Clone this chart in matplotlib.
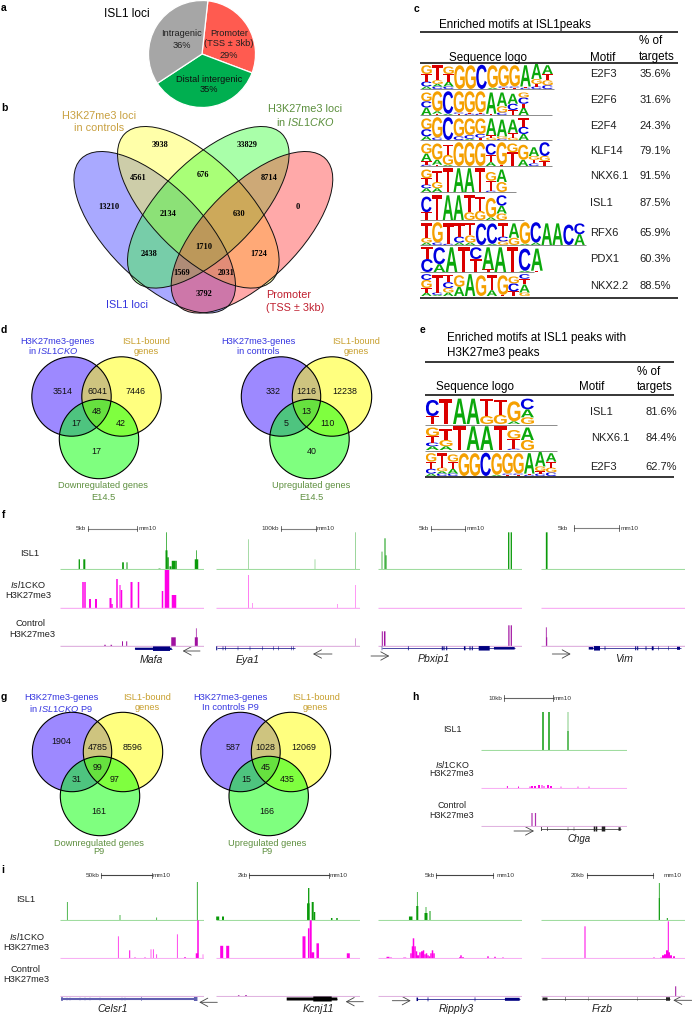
import re
import matplotlib
matplotlib.use("Agg")
import matplotlib.pyplot as plt
from matplotlib.font_manager import FontProperties
from matplotlib.patches import Circle, Ellipse, PathPatch
from matplotlib.path import Path
from matplotlib.textpath import TextPath

plt.rcParams['font.family'] = ['Liberation Sans', 'DejaVu Sans']
plt.rcParams['mathtext.fontset'] = 'custom'
plt.rcParams['mathtext.rm'] = 'Liberation Sans'
plt.rcParams['mathtext.it'] = 'Liberation Sans:italic'

W, H = 692, 1016

# panel a
pie_labels = ['Promoter', 'Distal intergenic', 'Intragenic']
pie_values = [29, 35, 36]

# panel b, numbers of the four set venn
venn4_counts = [3938, 33829, 4561, 676, 8714, 13210, 2134, 630, 0, 1710, 2438, 1724, 1569, 2031, 3792]

# panels d and g, order: A, AB, B, ABC, AC, BC, C
venn_d1 = [3514, 6041, 7446, 48, 17, 42, 17]
venn_d2 = [332, 1216, 12238, 13, 5, 110, 40]
venn_g1 = [1904, 4785, 8596, 99, 31, 97, 161]
venn_g2 = [587, 1028, 12069, 45, 15, 435, 166]

# motif tables, stacks are written top to bottom as letter + height in %
motifs_c = ['E2F3', 'E2F6', 'E2F4', 'KLF14', 'NKX6.1', 'ISL1', 'RFX6', 'PDX1', 'NKX2.2']
targets_c = ['35.6%', '31.6%', '24.3%', '79.1%', '91.5%', '87.5%', '65.9%', '60.3%', '88.5%']
motifs_e = ['ISL1', 'NKX6.1', 'E2F3']
targets_e = ['81.6%', '84.4%', '62.7%']

logo_e2f3 = ['G35T30C20A10', 'T60G15A10C10', 'G30T30A20C10', 'G95', 'G95', 'C97', 'G90A5', 'G85C5T5',
             'G85C5T5', 'A85T5C5', 'A60G20T10C10', 'A35T25G20C15']
logo_e2f6 = ['G35C25A30', 'G80A10T5', 'C90A5', 'G85C5T5', 'G85T5C5', 'G85T5C5', 'A85T5', 'A55G25C10',
             'A40C25T20', 'G20C25T15A30']
logo_e2f4 = ['G45C30A15', 'G85C10', 'C95', 'G75C15', 'G70C15A5', 'G65C15T10', 'A70T10G10', 'A70G10C5',
             'A55T20G10', 'T35C30A25']
logo_klf14 = ['G40A30T15C5', 'G65A20T5', 'T40G40A5', 'G95', 'G95', 'G95', 'C45T30A15', 'G90T5',
              'G35T55', 'G60A25', 'A35G15T15C10', 'C55G20T20']
logo_nkx61 = ['G35T25C15A15', 'T45G25A15', 'T95', 'A95', 'A95', 'T95', 'G35T40C5', 'A50G40']
logo_isl1 = ['C60T30', 'T95', 'A95', 'A95', 'T65G30', 'T55G35', 'G75A10', 'C40A30G25']
logo_rfx6 = ['T60G20A10', 'G85C10', 'T85C5', 'T55C25A10', 'T50G30A10', 'C90', 'C85A5', 'T55C20G15',
             'A60G30', 'G90A5', 'C85A10', 'A90', 'A90', 'C85', 'C45A45']
logo_pdx1 = ['T45C50', 'C65A30', 'A95', 'T95', 'C45T50', 'A85T10', 'A95', 'T95', 'C85A5', 'A85T5']
logo_nkx22 = ['C25G35T20A15', 'T75C10A5', 'T30C25G20A15', 'G50A40', 'A95', 'G90', 'T65A25', 'G85T5',
              'G30C35T20', 'C20T25A35G15']
logos_c = [logo_e2f3, logo_e2f6, logo_e2f4, logo_klf14, logo_nkx61, logo_isl1, logo_rfx6, logo_pdx1, logo_nkx22]
logos_e = [logo_isl1, logo_nkx61, logo_e2f3]

# browser tracks: (position, width, height), a track spans 144 units
mafa_isl1 = [(19.3, 1.3, 10), (24.3, 2, 10), (63, 1.7, 7), (67, 1, 7), (99.5, 2, .7), (106.5, 2, 19),
             (106.5, .7, 37), (108, 1.5, 12), (110.5, 2, 3), (113.5, 3.5, 8.5), (116, 1.5, 8.5),
             (136.5, 3.5, 10), (136.5, .7, 19)]
mafa_cko = [(23, 1.5, 26), (25, 1.5, 26), (30, 2, 9), (36, 2, 9), (50.5, 2, 10), (52, 1.5, 4), (57, 1.5, 29),
            (60, 1, 23), (61.5, 1.5, 18), (71.5, 2, 26), (78.5, 1.5, 26), (102.5, 1.5, 17), (107, 4.5, 38),
            (113.5, 3.5, 13), (115.5, 1.5, 13)]
mafa_ctl = [(45, 1.5, 1.5), (51.3, 1.5, 1.5), (62.5, 1, 5), (66.7, 1, 5), (113.5, 4.5, 9), (136.3, 3, 9),
            (136.3, .7, 18)]
eya1_isl1 = [(32.3, .35, 30), (99, .35, 10), (139.3, .4, 37)]
eya1_cko = [(32.3, .5, 33), (36.7, .4, 5), (121.3, .4, 4), (139.3, .4, 23)]
eya1_ctl = [(139.3, .4, 8)]
pbxip1_isl1 = [(4, .7, 17.7), (7, 1, 31), (8, 1, 14), (130.7, 1.3, 37), (133.3, 1.3, 37)]
pbxip1_cko = []
pbxip1_ctl = [(4.3, 1, 15), (6.7, 1.5, 15), (130.9, 1.2, 21), (133.3, 1.2, 21)]
vim_isl1 = [(5.7, 1.7, 37)]
vim_cko = []
vim_ctl = [(5.3, .8, 19), (5.7, 1, 9)]

celsr1_isl1 = [(7.3, .7, 18), (60, .7, 5), (96.7, .7, 2.5), (137.3, .8, 38)]
celsr1_cko = [(58.3, .7, 22), (69.7, 1, 8), (75, 1, 1), (85, 1, 1), (91, .6, 9), (93.3, .7, 9), (96.7, .7, 4),
              (117.3, .7, 24), (125, 2, 1), (137, 2.5, 5), (138, 1.5, 38), (143, .5, 4)]
celsr1_ctl = []
kcnj11_isl1 = [(1.7, 3, 3.5), (7, 2, 3.5), (92.3, 2.5, 16.7), (92.7, 1.3, 32), (96.7, 2, 18), (98.5, 1.5, 8),
               (115.7, 1.5, 2), (121, 1.5, 2)]
kcnj11_cko = [(5.7, 3, 12.5), (11.7, 3, 12.5), (88, 3, 22), (92.7, 1.5, 30), (94.7, 2, 38), (96.7, 3, 6),
              (101.7, 2.5, 15), (132.3, 3, 5)]
kcnj11_ctl = [(22.7, 1.5, 1), (30, 2, 1)]
ripply3_isl1 = [(32.7, 3.5, 3.5), (39.3, 2, 14), (39.3, .7, 28), (48, 3, 7), (48, .7, 13), (52, 1, 9)]
ripply3_cko = [(10, 3, 1.5), (13, 2, .7), (26.7, 3, .7), (33, 1.5, 5), (34.5, 1.5, 12), (35.5, 1.5, 20),
               (37, 1.5, 12), (38.5, 1.5, 7), (40, 2, 3), (42, 1.5, 6), (44, 2, 7), (45.5, 1.5, 8), (47, 1.5, 4),
               (48.5, 1.5, 5), (50, 1.5, 3), (51.5, 1.5, 2), (53, 1.5, 5), (54.5, 1.5, 8), (56, 1.5, 5),
               (82, 2, 1), (83, 1.5, 3), (85, 2, 1), (110, 1.5, 2), (117, 1.5, 1.5), (125, 2, .7)]
ripply3_ctl = []
frzb_isl1 = [(118.3, .8, 37), (118.3, 1, 22), (126.3, 1, 2)]
frzb_cko = [(44, 1, 32), (113, 2, .7), (120, 1, 1), (122, 2, 3), (124, 2, 4), (126, 2, 8), (127.3, 1, 37),
            (128, 2, 6), (130, 2, 3), (133, 2, 2)]
frzb_ctl = [(134.7, 1, 10)]
chga_isl1 = [(62, 1.5, 38), (68, 1.5, 38), (87, .5, 38), (87, 1, 19)]
chga_cko = [(26.4, 1, 2), (37.5, 1, 1.5), (49, 1, 1.5), (51, 2, 2), (54, 2, 2), (58, 2, 3), (61, 1, 3), (63, 1, 2),
            (67, 2, 3), (70, 2, 2), (80, .7, 1.5), (97, .7, 1.5), (108, .7, 1.5)]
chga_ctl = [(51, 1.2, 13), (54.5, 1.2, 13)]

# gene models: (position, width, height) of exons
mafa_exons = [(93.3, 36.7, 2), (101.5, 17, 4.5)]
eya1_exons = [(.7, 1, 4), (7, .6, 4), (9.3, .6, 4), (22, .5, 4), (34, .5, 4), (46.7, .5, 4), (57.3, .5, 4),
              (62.3, .5, 4), (75.7, .5, 4), (77.3, .5, 4)]
pbxip1_exons = [(4, .5, 4), (30.3, .7, 4), (64.3, 1, 4), (66, 1, 4), (68.7, 1, 4), (86.7, 1.5, 4), (92, 1, 4),
                (94.3, 1, 4), (106.2, 11, 4.5), (126.3, 20.7, 2.5)]
vim_exons = [(50, 4.5, 2.5), (56, 6, 4.5), (64, .7, 4), (94.7, 1, 4), (96.7, 1, 4), (105, .8, 4), (111.7, 1.8, 4),
             (117.3, .5, 4), (127.3, .5, 4), (137.5, 3, 3)]
celsr1_exons = [(2, 2, 3.5), (7, .5, 3), (10, .5, 3), (20, .5, 3), (25, .5, 3), (30, .5, 3), (40, .5, 3),
                (62, .5, 3), (65, .5, 3), (81.7, .6, 4), (135.7, 3.5, 4)]
kcnj11_exons = [(96, 50.6, 3), (106.5, 18.4, 5)]
ripply3_exons = [(39.3, 1.5, 3.5), (50, .7, 4), (97, .6, 4), (134.3, 14.7, 3)]
frzb_exons = [(4, 5, 3), (24.3, .5, 4), (47.3, .3, 4), (96.7, .3, 4), (127, 4, 3.5)]
chga_exons = [(60.5, .8, 4), (66.6, .6, 4), (87, .4, 4), (93, .4, 4), (113.5, 1.5, 5), (115.5, 1.5, 5), (122.5, 3.5, 5),
              (138.6, 2.2, 3.5)]

fig = plt.figure(figsize=(W / 100, H / 100), dpi=100)
page = fig.add_axes([0, 0, 1, 1])
page.set_xlim(0, W)
page.set_ylim(H, 0)
page.axis('off')
page.set_zorder(5)  # labels stay above the pie


def box(x0, y0, x1, y1):
    ax = fig.add_axes([x0 / W, 1 - y1 / H, (x1 - x0) / W, (y1 - y0) / H])
    ax.patch.set_alpha(0)
    ax.axis('off')
    ax.set_zorder(6)
    return ax


def label(x, y, s, size=6.7, color='black', ha='center', **kw):
    page.text(x, y, s, fontsize=size, color=color, ha=ha, va='center', **kw)


for name, x, y in [('a', 4, 8), ('b', 4, 108), ('c', 417, 9), ('d', 4, 330), ('e', 423, 330), ('f', 4, 515),
                   ('g', 4, 697), ('h', 415, 697), ('i', 3, 870)]:
    label(x, y, name, size=7.5, weight='bold', ha='center')

# a: pie
pie_ax = fig.add_axes([148.5 / W, 1 - 107.5 / H, 107 / W, 107 / H])
pie_ax.pie(pie_values, colors=['#FF5B50', '#00AF50', '#A6A6A6'], startangle=83.7, counterclock=False, radius=1,
           wedgeprops={'edgecolor': 'white', 'linewidth': 0.9})
pie_ax.set_xlim(-1, 1)
pie_ax.set_ylim(-1, 1)
label(127, 14, 'ISL1 loci', size=8.6)
label(229, 33, pie_labels[0], color='#202020')
label(229, 44, '(TSS ± 3kb)', color='#202020')
label(229, 56, '%d%%' % pie_values[0], color='#202020')
label(209, 79, pie_labels[1], color='#101010')
label(209, 90, '%d%%' % pie_values[1], color='#101010')
label(181.5, 34, pie_labels[2], color='#202020')
label(181.5, 45, '%d%%' % pie_values[2], color='#202020')

# b: four ellipses
for cx, cy, ang, col in [(154.7, 232.3, 45, (0.2, 0.2, 1)), (198.3, 207.3, 45, (1, 1, 0.2)),
                         (208.3, 207.3, -45, (0.2, 1, 0.2)), (252, 232.3, -45, (1, 0.2, 0.2))]:
    page.add_patch(Ellipse((cx, cy), 208, 94.6, angle=ang, facecolor=col + (0.42,), edgecolor='none'))
for cx, cy, ang in [(154.7, 232.3, 45), (198.3, 207.3, 45), (208.3, 207.3, -45), (252, 232.3, -45)]:
    page.add_patch(Ellipse((cx, cy), 208, 94.6, angle=ang, facecolor='none', edgecolor='#111111', linewidth=0.7))
venn4_x = [160, 247.3, 138.7, 203.3, 269, 109.3, 168, 239.3, 297.7, 204, 149.3, 258.3, 181.7, 225.7, 204]
venn4_y = [144.7, 144.7, 177.7, 175.3, 177.7, 207, 214.3, 214, 206.7, 246.7, 254, 254, 272.7, 272.7, 293.7]
for x, y, n in zip(venn4_x, venn4_y, venn4_counts):
    label(x, y, str(n), size=6, family='Liberation Serif', weight='bold')
label(99, 116.3, 'H3K27me3 loci', size=7.8, color='#C8A040')
label(99, 128.3, 'in controls', size=7.8, color='#C8A040')
label(305, 109.3, 'H3K27me3 loci', size=7.8, color='#5B8F3C')
label(305.7, 122, r'in $\mathit{ISL1CKO}$', size=7.8, color='#5B8F3C')
label(126.7, 304.7, 'ISL1 loci', size=7.8, color='#3333DD')
label(289, 295, 'Promoter', size=7.8, color='#C02030')
label(295, 307.7, '(TSS ± 3kb)', size=7.8, color='#C02030')

# logos
logo_font = FontProperties(family='Liberation Sans', weight='bold')
logo_colors = {'A': '#0BA80B', 'C': '#0000E0', 'G': '#F5A000', 'T': '#DA0000'}


def draw_logo(x0, y0, x1, y1, columns):
    ax = box(x0, y0, x1, y1)
    ax.set_xlim(0, len(columns))
    ax.set_ylim(0, 100)
    for i, col in enumerate(columns):
        stack = re.findall(r'([ACGT])(\d+)', col)
        base = 0
        for letter, height in reversed(stack):
            height = float(height)
            tp = TextPath((0, 0), letter, size=1, prop=logo_font)
            bb = tp.get_extents()
            verts = tp.vertices.copy()
            verts[:, 0] = i + 0.02 + (verts[:, 0] - bb.x0) / bb.width * 0.96
            verts[:, 1] = base + (verts[:, 1] - bb.y0) / bb.height * height
            ax.add_patch(PathPatch(Path(verts, tp.codes), facecolor=logo_colors[letter], edgecolor='none'))
            base += height


def rule(x0, x1, y, lw=1.0, color='black'):
    page.plot([x0, x1], [y, y], color=color, lw=lw, solid_capstyle='butt')


# c: motif table
label(439, 24.7, 'Enriched motifs at ISL1peaks', size=8.4, ha='left')
rule(420, 678, 32, 1.1)
label(639, 41, '% of', size=8.4, ha='left')
label(639, 56.7, 'targets', size=8.4, ha='left')
label(488, 57.7, 'Sequence logo', size=8.4)
label(590, 57.7, 'Motif', size=8.4, ha='left')
rule(420, 678, 63.3, 1.1)
rule(420, 678, 297.7, 1.1)
c_tops = [64, 90, 116, 141, 167, 194, 221, 246, 273]
c_bottoms = [89, 115, 140, 166, 192, 220, 245, 272, 296]
c_widths = [132, 108, 108, 129, 86, 86, 164, 122, 109]
c_rows = [74, 100, 126, 151, 176, 203, 233, 259, 286]
c_lines = [554, 552, 552, 552, 516, 524, 586, 534, None]
for i, logo in enumerate(logos_c):
    draw_logo(421, c_tops[i], 421 + c_widths[i], c_bottoms[i], logo)
    if c_lines[i]:
        rule(420, c_lines[i], c_bottoms[i] + 0.3, 0.7, '#8C8C8C')
    label(590, c_rows[i], motifs_c[i], size=8.0, color='#202020', ha='left')
    label(639.3, c_rows[i], targets_c[i], size=8.0, color='#202020', ha='left')

# e: motif table
label(447, 338.3, 'Enriched motifs at ISL1 peaks with', size=8.4, ha='left')
label(447, 353, 'H3K27me3 peaks', size=8.4, ha='left')
rule(424.7, 673.7, 362.3, 1.1)
label(637, 371.7, '% of', size=8.4, ha='left')
label(637, 386.7, 'targets', size=8.4, ha='left')
label(474.7, 386.7, 'Sequence logo', size=8.4)
label(579.3, 386.7, 'Motif', size=8.4, ha='left')
rule(424.7, 673.7, 395, 1.1)
rule(424.7, 673.7, 476.7, 1.1)
e_tops = [397.3, 425, 452]
e_bottoms = [424, 450, 476]
e_widths = [108.6, 108.6, 131]
e_rows = [411.7, 437.7, 466.7]
e_names = [601, 610, 603]
for i, logo in enumerate(logos_e):
    draw_logo(425.6, e_tops[i], 425.6 + e_widths[i], e_bottoms[i], logo)
    if i < 2:
        rule(425, 425.6 + e_widths[2], e_bottoms[i] + 0.6, 0.7, '#8C8C8C')
    label(e_names[i], e_rows[i], motifs_e[i], size=8.0, color='#202020')
    label(661.5, e_rows[i], targets_e[i], size=8.0, color='#202020')


# d and g: three circle venns
def venn3(cx, cy, low_cx, low_cy, right_cx, counts, spots):
    for (x, y), fc in zip([(cx, cy), (right_cx, cy), (low_cx, low_cy)],
                          [(60 / 255, 20 / 255, 1, 0.5), (1, 1, 0, 0.5), (0, 1, 0, 0.5)]):
        page.add_patch(Circle((x, y), 39.7, facecolor=fc, edgecolor='none'))
    for x, y in [(cx, cy), (right_cx, cy), (low_cx, low_cy)]:
        page.add_patch(Circle((x, y), 39.7, facecolor='none', edgecolor='black', linewidth=0.8))
    for (x, y), n in zip(spots, counts):
        label(x, y, str(n), size=6.4, color='#111111')


venn3(71.5, 396.5, 99, 439, 121.5, venn_d1,
      [(62.6, 391), (97, 391), (135.5, 391), (96.5, 411), (76.5, 423), (120.7, 423), (96.5, 452)])
venn3(281, 396.5, 309.5, 439, 332, venn_d2,
      [(273.6, 391), (306, 391), (345, 391), (306.7, 411), (286.5, 423), (327.7, 423), (311.6, 452)])
venn3(72, 752, 100, 796, 123, venn_g1,
      [(61, 741.7), (97.5, 747), (133, 747), (97.5, 768), (77, 780), (115, 780), (99, 811)])
venn3(240.5, 752, 268.7, 796, 291, venn_g2,
      [(233, 747), (265.5, 747), (304, 747), (265.5, 768), (246, 780), (287.4, 780), (267, 811)])

BLUE, GOLD, GREEN = '#3535E0', '#C8A030', '#5F9040'
label(57, 341, 'H3K27me3-genes', color=BLUE)
label(53, 351, r'in $\mathit{ISL1CKO}$', color=BLUE)
label(146, 341, 'ISL1-bound', color=GOLD)
label(146, 351, 'genes', color=GOLD)
label(103, 486, 'Downregulated genes', color=GREEN)
label(103, 497, 'E14.5', color=GREEN)
label(258.4, 341, 'H3K27me3-genes', color=BLUE)
label(258.4, 351, 'in controls', color=BLUE)
label(356, 341, 'ISL1-bound', color=GOLD)
label(356, 351, 'genes', color=GOLD)
label(311.6, 486, 'Upregulated genes', color=GREEN)
label(311.6, 497, 'E14.5', color=GREEN)
label(61, 698, 'H3K27me3-genes', color=BLUE)
label(61, 708, r'in $\mathit{ISL1CKO}$ P9', color=BLUE)
label(147.5, 698, 'ISL1-bound', color=GOLD)
label(147.5, 708, 'genes', color=GOLD)
label(99, 843, 'Downregulated genes', color=GREEN)
label(99, 852, 'P9', color=GREEN)
label(230, 698, 'H3K27me3-genes', color=BLUE)
label(230, 708, 'In controls P9', color=BLUE)
label(315.6, 698, 'ISL1-bound', color=GOLD)
label(315.6, 708, 'genes', color=GOLD)
label(267, 843, 'Upregulated genes', color=GREEN)
label(267, 852, 'P9', color=GREEN)


# f, h, i: browser tracks
def track(x0, x1, base, peaks, color, base_color, base_lw=0.8):
    ax = box(x0, base - 39, x1, base + 1)
    ax.set_xlim(0, x1 - x0)
    ax.set_ylim(-1, 39)
    ax.hlines(0, 0, x1 - x0, color=base_color, lw=base_lw)
    for pos, width, height in peaks:
        ax.bar(pos, height, width=width, bottom=0, color=color, linewidth=0, snap=False)


def gene(x0, y, start, end, exons, color='#000080', line_lw=0.5):
    ax = box(x0, y - 5, x0 + 144, y + 5)
    ax.set_xlim(0, 144)
    ax.set_ylim(-5, 5)
    ax.hlines(0, start, end, color=color, lw=line_lw)
    for pos, width, height in exons:
        ax.bar(pos, height, width=width, bottom=-height / 2, color=color, linewidth=0, snap=False)


def arrow(x0, x1, y, width=1.0):
    page.annotate('', xy=(x1, y), xytext=(x0, y),
                  arrowprops=dict(arrowstyle='->,head_length=0.55,head_width=0.3', color='#444444', lw=0.6,
                                  shrinkA=0, shrinkB=0))


def scale_bar(y, name, name_x, t0, t1, mm_x, lw=0.8, color='#808080'):
    page.plot([t0, t1], [y, y], color=color, lw=lw)
    page.plot([t0, t0], [y - 2.7, y + 2.7], color='#333333', lw=0.5)
    page.plot([t1, t1], [y - 2.7, y + 2.7], color='#333333', lw=0.5)
    label(name_x, y, name, size=4.6, color='#333333')
    label(mm_x, y, 'mm10', size=4.6, color='#333333', ha='left')


ISL1_C, CKO_C, CTL_C = '#0A9A0A', '#FF00E6', '#A010A0'
ISL1_B, CKO_B, CTL_B = '#A0DCA0', '#F8B0F4', '#E0B4E0'

f_panels = [(60, mafa_isl1, mafa_cko, mafa_ctl), (216, eya1_isl1, eya1_cko, eya1_ctl),
            (378, pbxip1_isl1, pbxip1_cko, pbxip1_ctl), (541, vim_isl1, vim_cko, vim_ctl)]
for x0, isl, cko, ctl in f_panels:
    track(x0, x0 + 144, 569.3, isl, ISL1_C, ISL1_B)
    track(x0, x0 + 144, 608, cko, CKO_C, CKO_B, 1.0)
    track(x0, x0 + 144, 646.3, ctl, CTL_C, CTL_B, 1.0)
gene(60, 648.7, 75, 111.7, mafa_exons)
gene(216, 648.3, .7, 79, eya1_exons)
gene(378, 648.3, 4, 136.7, pbxip1_exons)
gene(541, 648.3, 48, 140, vim_exons)
for s, x, y in [('Mafa', 151, 659.7), ('Eya1', 248, 660), ('Pbxip1', 433.7, 659), ('Vim', 624.3, 659.3)]:
    label(x, y, s, size=7.6, style='italic', color='#202020')
arrow(200, 182.7, 651)
arrow(332, 313, 654)
arrow(371, 389.3, 656)
arrow(552.3, 570.7, 654)
scale_bar(528.7, '5kb', 81, 88, 137, 138.7)
scale_bar(528.7, '100kb', 270.7, 281, 315.7, 317)
scale_bar(528.7, '5kb', 423.7, 431, 465, 467)
scale_bar(528, '5kb', 563.3, 573.7, 619.3, 621)
label(30, 553.7, 'ISL1', color='#202020')
label(28.3, 584.3, r'$\mathit{Isl1}$CKO', color='#202020')
label(28.3, 595, 'H3K27me3', color='#202020')
label(31, 623.7, 'Control', color='#202020')
label(32.7, 634.7, 'H3K27me3', color='#202020')

# h
track(481, 627, 750, chga_isl1, ISL1_C, ISL1_B)
track(481, 627, 788, chga_cko, CKO_C, CKO_B)
track(481, 627, 826, chga_ctl, '#B030B0', CTL_B)
gene(481, 829, 60, 140, chga_exons, color='#222222')
arrow(514, 534, 831)
label(579, 839, 'Chga', size=7, style='italic', color='#202020')
scale_bar(698, '10kb', 495, 504, 552.5, 554, color='#666666')
label(452, 730, 'ISL1', size=6.4, color='#202020')
label(452, 764, r'$\mathit{Isl1}$CKO', size=6.4, color='#202020')
label(452, 774, 'H3K27me3', size=6.4, color='#202020')
label(452, 805, 'Control', size=6.4, color='#202020')
label(452, 815, 'H3K27me3', size=6.4, color='#202020')

# i
i_panels = [(60, celsr1_isl1, celsr1_cko, celsr1_ctl), (216, kcnj11_isl1, kcnj11_cko, kcnj11_ctl),
            (378, ripply3_isl1, ripply3_cko, ripply3_ctl), (541, frzb_isl1, frzb_cko, frzb_ctl)]
for x0, isl, cko, ctl in i_panels:
    track(x0, x0 + 144, 920, isl, ISL1_C, ISL1_B)
    track(x0, x0 + 144, 958.3, cko, CKO_C, CKO_B)
    track(x0, x0 + 144, 996.3, ctl, CTL_C, CTL_B)
gene(60, 999, .7, 137.3, celsr1_exons, line_lw=1.5, color='#6060B0')
gene(216, 999, 70.7, 121.3, kcnj11_exons, color='black')
gene(378, 999.3, 38.7, 141.7, ripply3_exons)
gene(541, 999, 1.3, 129, frzb_exons, color='#222222')
for s, x in [('Celsr1', 112.7), ('Kcnj11', 318.3), ('Ripply3', 456.7), ('Frzb', 602.3)]:
    label(x, 1009.3, s, size=7.6, style='italic', color='#202020')
arrow(217.3, 199.3, 1002.3)
arrow(363.3, 345.7, 1001.7)
arrow(392.3, 410.7, 1000.7)
arrow(691.7, 673.3, 1000.3)
scale_bar(875.3, '50kb', 93, 101.3, 152.3, 153, color='#444444')
scale_bar(875.3, '2kb', 242.7, 249.3, 328.7, 330, color='#444444')
scale_bar(875.3, '5kb', 430, 436.3, 492.7, 497, color='#444444')
scale_bar(875.3, '20kb', 577.7, 587.3, 653.3, 663.7, color='#444444')
label(25.3, 899.3, 'ISL1', color='#202020')
label(26.7, 936.7, r'$\mathit{Isl1}$CKO', color='#202020')
label(26.7, 947.3, 'H3K27me3', color='#202020')
label(25.3, 969, 'Control', color='#202020')
label(26.7, 979.3, 'H3K27me3', color='#202020')

fig.savefig('out.png', dpi=100)
